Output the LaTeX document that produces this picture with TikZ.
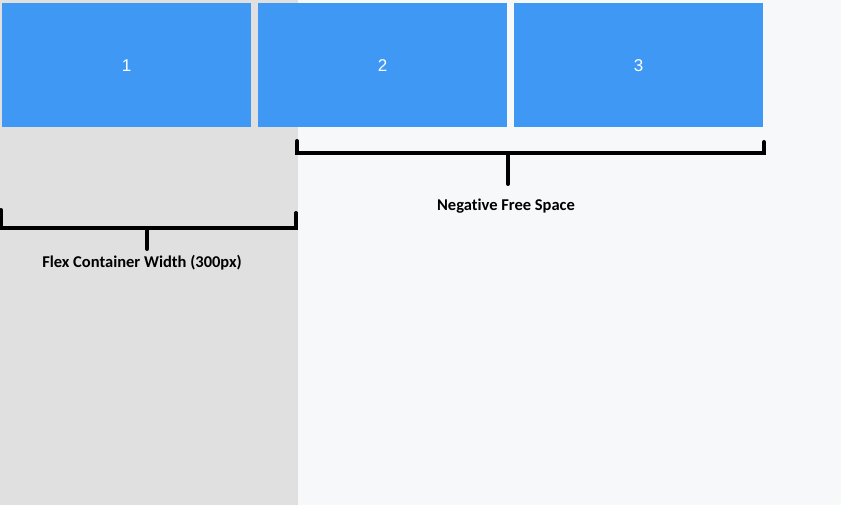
\documentclass[tikz,border=0pt]{standalone}
\usepackage{fontspec}
\setmainfont{Liberation Sans}
\newfontfamily\labelfont[Ligatures={NoCommon,NoRare}]{Carlito}
\definecolor{itemblue}{RGB}{64,152,245}
\definecolor{containergray}{RGB}{224,224,224}
\definecolor{pagebg}{RGB}{247,248,250}
\begin{document}
\begin{tikzpicture}[x=1pt,y=-1pt,
  item/.style={fill=itemblue, draw=none, minimum width=249pt, minimum height=124pt,
    inner sep=0pt, text=white, font=\fontsize{17}{19}\selectfont},
  bracket/.style={line width=4pt, line cap=round, line join=miter},
  caption/.style={font=\labelfont\bfseries\fontsize{16.5}{18}\selectfont, inner sep=0pt}]
  % page and container backgrounds
  \fill[pagebg] (0,0) rectangle (841,505);
  \useasboundingbox (0,0) rectangle (841,505);
  \fill[containergray] (0,0) rectangle (298,505);
  % flex items
  \node[item] (i1) at (126.5,65.5) {1};
  \node[item] (i2) at (382.5,65.5) {2};
  \node[item] (i3) at (638.5,65.5) {3};
  % overflow bracket
  \coordinate (nl) at (297,141);
  \coordinate (nr) at (764,142);
  \coordinate (nm) at (508,153);
  \draw[bracket] (nl) |- (nm) -| (nr);
  \coordinate (ns) at (508,184);
  \draw[bracket] (nm) -- (ns);
  \node[caption] (nfs) at (506,206) {Negative Free Space};
  % container bracket
  \coordinate (cl) at (1,210);
  \coordinate (cr) at (296,213);
  \coordinate (cm) at (147,228);
  \draw[bracket] (cl) |- (cm) -| (cr);
  \coordinate (cs) at (147,249);
  \draw[bracket] (cm) -- (cs);
  \node[caption] (cw) at (142,263) {Flex Container Width (300px)};
\end{tikzpicture}
\end{document}
